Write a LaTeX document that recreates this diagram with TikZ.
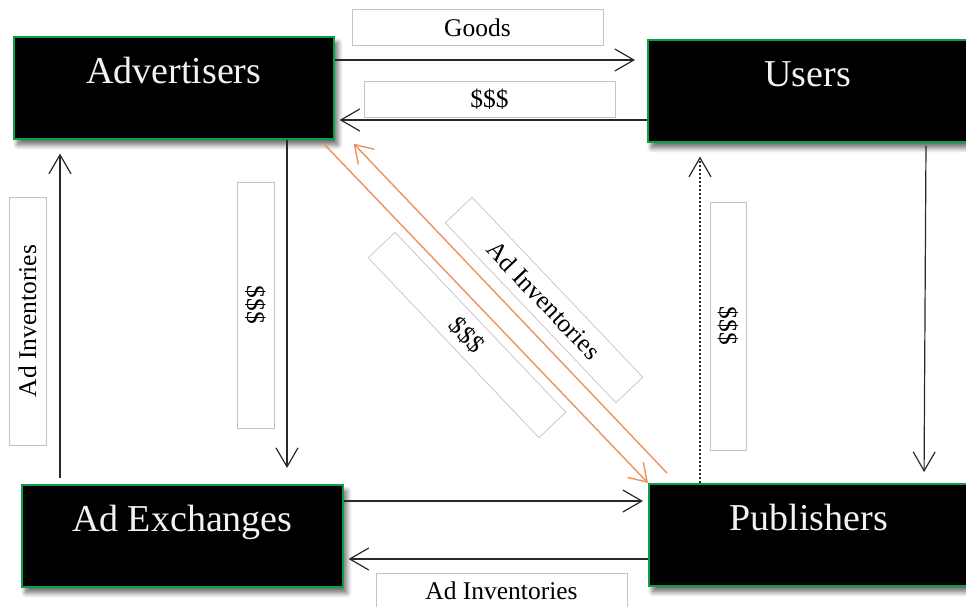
\documentclass[tikz,border=0pt]{standalone}
\usepackage{fontspec}
\setmainfont{Liberation Serif}
\usetikzlibrary{arrows.meta,calc,shadows.blur}
\definecolor{boxgreen}{RGB}{10,160,70}
\definecolor{flow}{RGB}{40,40,40}
\definecolor{orangeflow}{RGB}{238,145,95}
\definecolor{tagborder}{RGB}{195,195,195}
\definecolor{boxtext}{RGB}{242,242,242}
\begin{document}
\begin{tikzpicture}[x=1pt,y=-1pt,
  party/.style={draw=boxgreen, line width=1.6pt, fill=black, text=boxtext,
    anchor=north west, minimum width=320pt, minimum height=102pt, inner sep=0pt,
    font=\fontsize{38}{40}\selectfont, text height=26pt, text depth=34pt,
    blur shadow={shadow xshift=4pt, shadow yshift=-6pt, shadow blur steps=10,
      shadow blur radius=5pt, shadow opacity=60}},
  tag/.style={draw=tagborder, line width=0.7pt, fill=white, minimum width=251pt,
    minimum height=36pt, inner sep=0pt, font=\fontsize{25.5}{27}\selectfont},
  flowarrow/.style={draw=flow, line width=1.2pt, -{Straight Barb[length=19pt,width=22pt]}},
  orangearrow/.style={draw=orangeflow, line width=1.4pt, -{Straight Barb[length=17pt,width=22pt]}}]
\useasboundingbox (0,0) rectangle (966,606);

% the four parties
\node[party] (adv) at (13,36) {Advertisers};
\node[party] (usr) at (647,39) {Users};
\node[party, minimum width=321pt] (adx) at (21,484) {Ad Exchanges};
\node[party] (pub) at (648,483) {Publishers};

% flow labels
\node[tag] (tgoods) at (477.5,27.5) {Goods};
\node[tag] (tpay1) at (489.5,99) {\$\$\$};
\node[tag, minimum width=246pt, minimum height=37pt, rotate=-90] (tpay2) at (255.5,305) {\$\$\$};
\node[tag, minimum width=248pt, minimum height=37pt, rotate=90] (tinv1) at (27.5,321) {Ad Inventories};
\node[tag, minimum width=248pt, minimum height=36pt, rotate=-90] (tpay3) at (728,326) {\$\$\$};
\node[tag, minimum width=251pt, minimum height=36pt] (tinv2) at (501.5,591) {Ad Inventories};
\node[tag, minimum width=248pt, minimum height=37pt, rotate=-46.5] (tinv3) at (544,300) {Ad Inventories};
\node[tag, minimum width=248pt, minimum height=37pt, rotate=-46.5] (tpay4) at (467,335) {\$\$\$};

% flows between the parties
\draw[flowarrow, shorten >=12pt] ($(adv.north east)+(0,24)$) -- ($(usr.north west)+(0,21)$);
\draw[flowarrow, shorten >=5pt] ($(usr.north west)+(0,81)$) -- ($(adv.north east)+(0,84)$);
\draw[flowarrow, shorten >=16pt] ($(adv.south west)+(274,0)$) -- ($(adx.north west)+(266,0)$);
\draw[flowarrow, shorten <=6pt, shorten >=14pt] ($(adx.north west)+(39,0)$) -- ($(adv.south west)+(47,0)$);
\draw[flowarrow, shorten <=3pt, shorten >=11pt] ($(usr.south west)+(279,0)$) -- ($(pub.north west)+(276,0)$);
\draw[flowarrow, dash pattern=on 2.5pt off 1.5pt, shorten >=14pt] ($(pub.north west)+(52,0)$) -- ($(usr.south west)+(53,0)$);
\draw[flowarrow, shorten >=5pt] ($(adx.north east)+(0,17)$) -- ($(pub.north west)+(0,18)$);
\draw[flowarrow, shorten >=5pt] ($(pub.north west)+(0,76)$) -- ($(adx.north east)+(0,75)$);
\draw[orangearrow] ($(adv.south east)+(-10,5)$) -- (pub.north west);
\draw[orangearrow] ($(pub.north west)+(19,-10)$) -- ($(adv.south east)+(19,4)$);
\end{tikzpicture}
\end{document}
